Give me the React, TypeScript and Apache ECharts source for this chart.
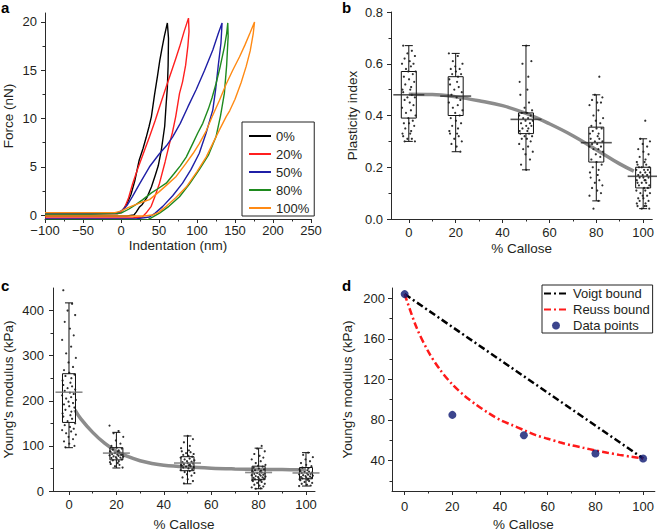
import React, { useEffect, useRef } from "react";
import * as echarts from "echarts";

const FONT = '"Liberation Sans", Arial, Helvetica, sans-serif';
const INK = "#231f20";
const AXIS = "#2a2a2a";

// ---------- Panel a: force vs indentation ----------
const CURVE_NAMES = ["0%", "20%", "50%", "80%", "100%"];
const CURVE_COLORS = ["#000000", "#ff1f1f", "#1f1fa6", "#1e8a1e", "#ff8a14"];
const CURVE_0 = [
  [-100, 0.2], [-40, 0.2], [-6, 0.22], [0, 0.35], [4, 0.7], [8, 1.2], [13, 2.1], [18, 3.5], [24, 5.7],
  [29, 6.9], [33, 8.0], [37, 9.2], [40, 10.2], [44, 12.4], [48, 14.4], [51, 16], [54, 17.3], [57, 18.5],
  [61, 19.9], [62.5, 18.3], [62, 15.5], [61, 13.2], [59.5, 11.6], [57.5, 9.2], [55, 7.8], [53, 6.7],
  [49, 5.1], [45, 4.1], [40, 2.9], [34, 1.8], [28, 1.1], [24, 0.8], [20, 0.3], [17, 0], [8, -0.1], [-100, -0.1],
];
const CURVE_20 = [
  [-100, 0.1], [-40, 0.1], [-5, 0.12], [0, 0.3], [5, 0.8], [10, 1.8], [15.5, 3.3], [22, 4.8], [30, 6.5],
  [37.5, 8.1], [45, 9.8], [52, 11.5], [59.5, 13.3], [66, 14.8], [72, 16.2], [77, 17.4], [83, 19], [88.8, 20.4],
  [89.5, 19], [88, 17.5], [85, 15.5], [81, 13.8], [77, 12.6], [72, 10.2], [67.5, 8.5], [63.8, 7.4], [58, 5.5],
  [50.7, 3.3], [45, 2], [39.7, 0.9], [33, 0.2], [28, -0.2], [15, -0.3], [-100, -0.3],
];
const CURVE_50 = [
  [-100, 0.15], [-40, 0.15], [-5, 0.2], [2, 0.5], [8, 1], [15, 1.9], [25, 3.3], [37.5, 5], [50, 6.3],
  [60, 7.2], [68, 8.1], [78, 9.5], [88, 11.2], [99, 13], [110, 15], [120.8, 17.1], [128, 18.8], [133, 19.9],
  [131.5, 17.8], [128, 15.5], [124.5, 13], [120.8, 10.9], [112, 8.5], [103, 6.4], [92, 4.7], [81, 3.3],
  [68, 2], [55, 0.9], [45, 0.2], [37.5, -0.2], [20, -0.4], [-100, -0.4],
];
const CURVE_80 = [
  [-100, 0.1], [-40, 0.1], [-5, 0.15], [0, 0.2], [10, 0.6], [20, 1.1], [28.7, 1.6], [40, 2.3], [50, 2.8],
  [59.5, 3.3], [70, 4.3], [78, 5.1], [85.8, 6], [95, 7.5], [101, 8.5], [107.6, 9.5], [115, 11], [120, 12.2],
  [125, 13.6], [130, 15.2], [136, 17.4], [139, 18.8], [140.5, 19.9], [141, 18.5], [140.5, 17.8], [139, 15.5],
  [136, 12.6], [131, 10.3], [125, 8.1], [115, 6.2], [103, 4.7], [90, 3.2], [77, 1.9], [63, 0.9], [50.7, 0.2],
  [42, -0.2], [35, -0.5], [20, -0.5], [-100, -0.5],
];
const CURVE_100 = [
  [-100, 0.25], [-40, 0.25], [-8, 0.25], [0, 0.4], [10, 0.8], [20, 1.1], [30, 1.4], [37.5, 1.6], [50, 2.4],
  [60, 3.1], [72.6, 4], [85, 5.3], [95, 6.4], [103, 7.4], [112, 8.7], [120, 10.2], [129.6, 11.9], [138, 13.5],
  [147, 15], [156, 16.4], [163, 17.6], [170, 18.9], [175.7, 20], [174, 18.8], [170, 17], [164.7, 15.4],
  [158, 13.7], [150, 12], [143, 10.8], [138.4, 10.2], [130, 8.9], [120, 7.3], [112, 6], [100, 4.5],
  [85.8, 2.9], [72, 1.8], [59.5, 0.9], [50, 0.3], [41.8, 0], [30, -0.1], [-100, -0.1],
];
const CURVES = [CURVE_0, CURVE_20, CURVE_50, CURVE_80, CURVE_100];
const A_X_LABELS = [-100, -50, 0, 50, 100, 150, 200, 250];
const A_X_MINOR = [-75, -25, 25, 75, 125, 175, 225];
const A_Y_LABELS = [0, 5, 10, 15, 20];
const A_Y_MINOR = [2.5, 7.5, 12.5, 17.5];

// ---------- Shared callose categories ----------
const CALLOSE = [0, 20, 50, 80, 100];
const CALLOSE_LABELS = [0, 20, 40, 60, 80, 100];
const CALLOSE_MINOR = [10, 30, 50, 70, 90];

// ---------- Panel b: plasticity index ----------
// [whisker low, Q1, Q3, whisker high]
const PI_BOX = [
  [0.30, 0.39, 0.57, 0.67],
  [0.26, 0.40, 0.55, 0.64],
  [0.19, 0.33, 0.41, 0.67],
  [0.07, 0.22, 0.355, 0.48],
  [0.04, 0.12, 0.20, 0.31],
];
const PI_MEAN = [0.48, 0.475, 0.385, 0.295, 0.165];
const PI_POINTS_0 = [0.67, 0.65, 0.64, 0.63, 0.62, 0.61, 0.60, 0.60, 0.59, 0.58, 0.57, 0.57, 0.56, 0.55, 0.54, 0.53, 0.52, 0.51, 0.50, 0.50, 0.49, 0.48, 0.47, 0.47, 0.46, 0.45, 0.44, 0.43, 0.42, 0.41, 0.40, 0.39, 0.38, 0.37, 0.37, 0.36, 0.35, 0.34, 0.33, 0.33, 0.32, 0.31, 0.31, 0.30, 0.30];
const PI_POINTS_20 = [0.64, 0.63, 0.61, 0.60, 0.59, 0.58, 0.58, 0.57, 0.56, 0.56, 0.55, 0.54, 0.53, 0.52, 0.51, 0.50, 0.49, 0.48, 0.47, 0.46, 0.45, 0.44, 0.43, 0.42, 0.41, 0.40, 0.39, 0.38, 0.37, 0.36, 0.35, 0.34, 0.33, 0.33, 0.32, 0.31, 0.30, 0.29, 0.28, 0.26];
const PI_POINTS_50 = [0.67, 0.61, 0.60, 0.55, 0.53, 0.50, 0.48, 0.45, 0.43, 0.42, 0.41, 0.41, 0.40, 0.40, 0.39, 0.39, 0.38, 0.38, 0.37, 0.37, 0.36, 0.36, 0.35, 0.35, 0.34, 0.34, 0.33, 0.33, 0.32, 0.32, 0.31, 0.31, 0.30, 0.29, 0.28, 0.27, 0.26, 0.25, 0.23, 0.21, 0.19];
const PI_POINTS_80 = [0.55, 0.48, 0.47, 0.46, 0.45, 0.45, 0.44, 0.42, 0.40, 0.39, 0.38, 0.37, 0.36, 0.35, 0.35, 0.34, 0.33, 0.33, 0.32, 0.31, 0.31, 0.30, 0.30, 0.29, 0.29, 0.28, 0.28, 0.27, 0.27, 0.26, 0.25, 0.24, 0.23, 0.22, 0.21, 0.20, 0.19, 0.18, 0.17, 0.16, 0.15, 0.14, 0.13, 0.12, 0.11, 0.10, 0.09, 0.07, 0.04];
const PI_POINTS_100 = [0.38, 0.31, 0.30, 0.29, 0.28, 0.27, 0.26, 0.25, 0.24, 0.23, 0.22, 0.22, 0.21, 0.21, 0.20, 0.20, 0.20, 0.19, 0.19, 0.19, 0.18, 0.18, 0.18, 0.17, 0.17, 0.17, 0.16, 0.16, 0.16, 0.15, 0.15, 0.15, 0.14, 0.14, 0.14, 0.13, 0.13, 0.12, 0.12, 0.11, 0.11, 0.10, 0.10, 0.09, 0.09, 0.08, 0.08, 0.07, 0.07, 0.06, 0.06, 0.05, 0.05, 0.05, 0.04, 0.04];
const PI_POINTS = [PI_POINTS_0, PI_POINTS_20, PI_POINTS_50, PI_POINTS_80, PI_POINTS_100];
const PI_FIT_X = [0, 10, 20, 30, 40, 50, 60, 70, 80, 90, 96];
const PI_FIT_Y = [0.482, 0.481, 0.472, 0.457, 0.438, 0.408, 0.368, 0.322, 0.268, 0.213, 0.185];
const B_Y_LABELS = [0, 0.2, 0.4, 0.6, 0.8];
const B_Y_MINOR = [0.1, 0.3, 0.5, 0.7];

// ---------- Panel c: Young's modulus ----------
const YM_BOX = [
  [96, 152, 260, 417],
  [51, 69, 96, 130],
  [16, 45, 76, 122],
  [5, 25, 55, 95],
  [11, 27, 52, 85],
];
const YM_MEAN = [219, 84, 62, 41, 40];
const YM_POINTS_0 = [445, 415, 400, 390, 375, 360, 345, 335, 320, 305, 295, 285, 275, 268, 262, 258, 255, 250, 245, 240, 235, 232, 228, 225, 222, 218, 215, 212, 208, 205, 202, 198, 195, 192, 188, 185, 180, 176, 172, 168, 165, 160, 155, 150, 146, 142, 138, 135, 132, 128, 125, 120, 115, 110, 105, 100, 97];
const YM_POINTS_20 = [145, 133, 128, 120, 112, 105, 100, 96, 94, 92, 90, 88, 87, 86, 85, 84, 83, 82, 81, 80, 79, 78, 77, 76, 75, 74, 73, 72, 70, 68, 66, 64, 62, 60, 58, 55, 52];
const YM_POINTS_50 = [122, 115, 108, 100, 95, 90, 88, 86, 84, 82, 80, 78, 76, 74, 72, 70, 68, 66, 65, 64, 62, 61, 60, 59, 58, 57, 56, 55, 54, 53, 52, 50, 48, 46, 44, 42, 40, 37, 34, 30, 26, 22, 17];
const YM_POINTS_80 = [100, 94, 88, 82, 78, 74, 70, 66, 62, 58, 56, 54, 52, 50, 48, 46, 45, 44, 43, 42, 41, 40, 39, 38, 37, 36, 35, 34, 33, 32, 31, 30, 29, 28, 27, 26, 25, 24, 23, 22, 20, 18, 16, 14, 12, 10, 8, 6, 5];
const YM_POINTS_100 = [85, 80, 75, 70, 66, 62, 58, 55, 52, 50, 48, 46, 44, 43, 42, 41, 40, 39, 38, 37, 36, 35, 34, 33, 32, 31, 30, 29, 28, 27, 26, 25, 24, 22, 20, 18, 16, 14, 12, 11];
const YM_POINTS = [YM_POINTS_0, YM_POINTS_20, YM_POINTS_50, YM_POINTS_80, YM_POINTS_100];
const YM_FIT_X = [2.5, 5, 10, 15, 20, 25, 30, 35, 40, 50, 60, 70, 80, 90, 100];
const YM_FIT_Y = [180, 160, 130, 106, 88, 76, 67, 61, 57, 53, 50.5, 49, 48, 47.5, 47];
const C_Y_LABELS = [0, 100, 200, 300, 400];
const C_Y_MINOR = [50, 150, 250, 350];

// ---------- Panel d: bounds ----------
const VOIGT_X = [0, 100];
const VOIGT_Y = [204, 42];
const REUSS_X = [0, 5, 10, 15, 20, 25, 30, 35, 40, 45, 50, 55, 60, 65, 70, 75, 80, 85, 90, 95, 100];
const REUSS_Y = [204, 171, 147, 129, 115, 104, 95, 87, 80, 75, 70, 65, 61.5, 58, 55, 52.5, 50, 47.7, 45.6, 43.7, 42];
const DATA_X = [0, 20, 50, 80, 100];
const DATA_Y = [204, 85, 65, 47, 42];
const D_Y_LABELS = [40, 80, 120, 160, 200];
const D_Y_MINOR = [20, 60, 100, 140, 180];
const D_LEGEND = ["Voigt bound", "Reuss bound", "Data points"];

// horizontal jitter pattern (in % callose units) for the scattered raw points
const JITTER = [-2.4, 1.3, -0.6, 2.6, -1.8, 0.4, 2.0, -2.9, 0.9, -1.2, 2.9, -0.2, 1.7, -2.1, 0.1, 2.3, -1.5, 1.0, -2.7, 0.6];

const zip = (xs: number[], ys: number[]) => xs.map((x, i) => [x, ys[i]]);
const minusFmt = (v: number) => String(v).replace("-", "\u2212");

function axisPair(
  dim: "x" | "y", grid: number, min: number, max: number, major: number[], minor: number[],
  name: string, nameGap: number, margin: number, fmt?: (v: number) => string
) {
  const label: any = { show: true, customValues: major, margin, fontFamily: FONT, fontSize: 13, color: INK };
  if (fmt) label.formatter = fmt;
  const main: any = {
    type: "value", gridIndex: grid, min, max,
    position: dim === "x" ? "bottom" : "left",
    name, nameLocation: "middle", nameGap,
    nameTextStyle: { fontFamily: FONT, fontSize: 13.5, color: INK },
    axisLine: { show: true, onZero: false, lineStyle: { color: AXIS, width: 1 } },
    axisTick: { show: true, inside: false, length: 4, customValues: major, lineStyle: { color: AXIS, width: 1 } },
    axisLabel: label,
    splitLine: { show: false },
  };
  const sub: any = {
    type: "value", gridIndex: grid, min, max,
    position: dim === "x" ? "bottom" : "left",
    axisLine: { show: false, onZero: false },
    axisTick: { show: true, inside: false, length: 2.5, customValues: minor, lineStyle: { color: AXIS, width: 1 } },
    axisLabel: { show: false },
    splitLine: { show: false },
  };
  return [main, sub];
}

function boxRenderer(halfW: number, capW: number) {
  return (_params: any, api: any) => {
    const x = api.value(0);
    const pLo = api.coord([x, api.value(1)]);
    const pQ1 = api.coord([x, api.value(2)]);
    const pQ3 = api.coord([x, api.value(3)]);
    const pHi = api.coord([x, api.value(4)]);
    const st = { stroke: "#111", lineWidth: 1, fill: null };
    return {
      type: "group",
      children: [
        { type: "line", shape: { x1: pLo[0], y1: pLo[1], x2: pQ1[0], y2: pQ1[1] }, style: st },
        { type: "line", shape: { x1: pQ3[0], y1: pQ3[1], x2: pHi[0], y2: pHi[1] }, style: st },
        { type: "line", shape: { x1: pLo[0] - capW, y1: pLo[1], x2: pLo[0] + capW, y2: pLo[1] }, style: st },
        { type: "line", shape: { x1: pHi[0] - capW, y1: pHi[1], x2: pHi[0] + capW, y2: pHi[1] }, style: st },
        {
          type: "rect",
          shape: { x: pQ3[0] - halfW, y: pQ3[1], width: halfW * 2, height: pQ1[1] - pQ3[1] },
          style: { stroke: "#111", lineWidth: 1, fill: "rgba(255,255,255,0)" },
        },
      ],
    };
  };
}

function jittered(groups: number[][]) {
  const out: number[][] = [];
  groups.forEach((vals, gi) => {
    vals.forEach((v, i) => out.push([CALLOSE[gi] + JITTER[(i + gi * 7) % JITTER.length], v]));
  });
  return out;
}

function boxSeriesSet(axisIdx: number, boxes: number[][], means: number[], points: number[][],
  fitX: number[], fitY: number[], halfW: number, meanW: number, meanColor: string) {
  return [
    {
      type: "line", xAxisIndex: axisIdx, yAxisIndex: axisIdx, data: zip(fitX, fitY), smooth: 0.4,
      symbol: "none", showSymbol: false, lineStyle: { color: "#8c8c8c", width: 3.5 }, z: 1, silent: true,
    },
    {
      type: "custom", xAxisIndex: axisIdx, yAxisIndex: axisIdx,
      data: CALLOSE.map((x, i) => [x, ...boxes[i]]),
      encode: { x: 0, y: [1, 2, 3, 4] },
      renderItem: boxRenderer(halfW, 4), z: 2, silent: true,
    },
    {
      type: "scatter", xAxisIndex: axisIdx, yAxisIndex: axisIdx, data: jittered(points),
      symbolSize: 2.2, itemStyle: { color: "#1a1a1a", opacity: 0.9 }, z: 3, silent: true,
    },
    {
      type: "scatter", xAxisIndex: axisIdx, yAxisIndex: axisIdx, data: zip(CALLOSE, means),
      symbol: "rect", symbolSize: [meanW, 1.6], itemStyle: { color: meanColor }, z: 4, silent: true,
    },
  ];
}

export default function App() {
  const ref = useRef<HTMLDivElement>(null);
  useEffect(() => {
    if (!ref.current) return;
    const chart = echarts.init(ref.current, undefined, { renderer: "svg" });

    const [ax, axm] = axisPair("x", 0, -100, 250, A_X_LABELS, A_X_MINOR, "Indentation (nm)", 19, 5, minusFmt);
    const [ay, aym] = axisPair("y", 0, -0.41, 20.93, A_Y_LABELS, A_Y_MINOR, "Force (nN)", 30, 8);
    const [bx, bxm] = axisPair("x", 1, -7.6, 103.9, CALLOSE_LABELS, CALLOSE_MINOR, "% Callose", 22, 7);
    const [by, bym] = axisPair("y", 1, 0, 0.8, B_Y_LABELS, B_Y_MINOR, "Plasticity index", 32, 8, (v: number) => v.toFixed(1));
    const [cx, cxm] = axisPair("x", 2, -6.75, 103.8, CALLOSE_LABELS, CALLOSE_MINOR, "% Callose", 26, 7);
    const [cy, cym] = axisPair("y", 2, 0, 450, C_Y_LABELS, C_Y_MINOR, "Young's modulus (kPa)", 38, 9);
    const [dx, dxm] = axisPair("x", 3, -5.3, 104.9, CALLOSE_LABELS, CALLOSE_MINOR, "% Callose", 26, 9);
    const [dy, dym] = axisPair("y", 3, 10, 210, D_Y_LABELS, D_Y_MINOR, "Young's modulus (kPa)", 38, 7);

    const panelLabel = (t: string, x: number, y: number) => ({
      type: "text", x, y,
      style: { text: t, font: `bold 15px ${FONT}`, fill: "#000", verticalAlign: "bottom" },
    });

    const hiddenSymbol = { opacity: 0 };

    const option: any = {
      animation: false,
      textStyle: { fontFamily: FONT },
      grid: [
        { left: 45, top: 13, width: 266, height: 206 },
        { left: 391, top: 12, width: 264, height: 207 },
        { left: 53, top: 288, width: 262, height: 206 },
        { left: 392, top: 288, width: 263, height: 206 },
      ],
      xAxis: [ax, axm, bx, bxm, cx, cxm, dx, dxm],
      yAxis: [ay, aym, by, bym, cy, cym, dy, dym],
      legend: [
        {
          data: CURVE_NAMES.map((n) => ({ name: n, itemStyle: hiddenSymbol })),
          orient: "vertical", left: 242, top: 122,
          itemWidth: 22, itemHeight: 8, itemGap: 4, padding: [7, 5, 1, 6],
          borderColor: "#222", borderWidth: 1, selectedMode: false,
          textStyle: { fontFamily: FONT, fontSize: 13, color: INK, lineHeight: 14 },
        },
        {
          data: [
            { name: D_LEGEND[0], itemStyle: hiddenSymbol },
            { name: D_LEGEND[1], itemStyle: hiddenSymbol },
            { name: D_LEGEND[2] },
          ],
          orient: "vertical", left: 542, top: 285,
          itemWidth: 24, itemHeight: 8, itemGap: 3, padding: [2, 3, 1, 1],
          borderColor: "#222", borderWidth: 1, selectedMode: false,
          textStyle: { fontFamily: FONT, fontSize: 13, color: INK, lineHeight: 13 },
        },
      ],
      graphic: [
        panelLabel("a", 1, 15),
        panelLabel("b", 342, 15),
        panelLabel("c", 1, 293),
        panelLabel("d", 342, 293),
      ],
      series: [
        ...CURVES.map((c, i) => ({
          type: "line", name: CURVE_NAMES[i], xAxisIndex: 0, yAxisIndex: 0, data: c,
          symbol: "none", showSymbol: false, lineStyle: { color: CURVE_COLORS[i], width: 1.4 },
          itemStyle: { color: CURVE_COLORS[i] }, z: 2, silent: true,
        })),
        ...boxSeriesSet(2, PI_BOX, PI_MEAN, PI_POINTS, PI_FIT_X, PI_FIT_Y, 7.5, 31, "#2a2a2a"),
        ...boxSeriesSet(4, YM_BOX, YM_MEAN, YM_POINTS, YM_FIT_X, YM_FIT_Y, 6.5, 27, "#6e6e6e"),
        {
          type: "line", name: "Voigt bound", xAxisIndex: 6, yAxisIndex: 6, data: zip(VOIGT_X, VOIGT_Y),
          symbol: "none", showSymbol: false, lineStyle: { color: "#000", width: 2.5, type: [7, 3, 2, 3] },
          itemStyle: { color: "#000" }, z: 2, silent: true,
        },
        {
          type: "line", name: "Reuss bound", xAxisIndex: 6, yAxisIndex: 6, data: zip(REUSS_X, REUSS_Y),
          smooth: 0.3, symbol: "none", showSymbol: false,
          lineStyle: { color: "#ff1a1a", width: 2.5, type: [7, 3, 2, 3] },
          itemStyle: { color: "#ff1a1a" }, z: 2, silent: true,
        },
        {
          type: "scatter", name: "Data points", xAxisIndex: 6, yAxisIndex: 6, data: zip(DATA_X, DATA_Y),
          symbolSize: 8, itemStyle: { color: "#0b1670" }, z: 3, silent: true,
        },
      ],
    };
    chart.setOption(option);
    return () => chart.dispose();
  }, []);
  return <div ref={ref} style={{ position: "absolute", left: 0, top: 0, width: 657, height: 532 }} />;
}
